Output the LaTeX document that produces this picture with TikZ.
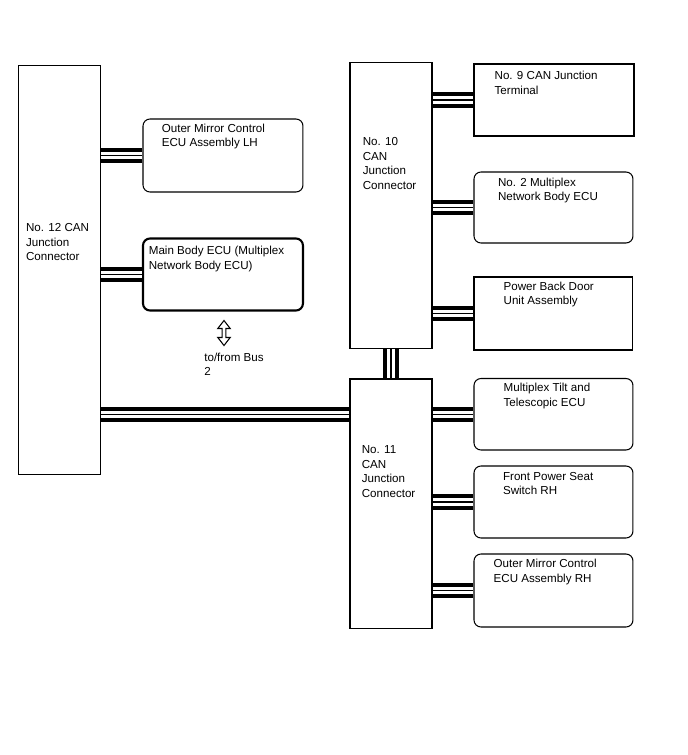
\documentclass[tikz,border=0pt]{standalone}
\usepackage{fontspec}
\setmainfont{Liberation Sans}
\usepackage{tikz}
\usetikzlibrary{positioning,calc}

\begin{document}
\begin{tikzpicture}[x=0.02cm, y=-0.02cm,
    box/.style={rectangle, draw=black, line width=0.6pt, anchor=north west, inner sep=0pt, outer sep=0pt},
    ecu/.style={box, rounded corners=0.14cm},
    heavy/.style={line width=1.2pt},
    txt/.style={anchor=north west, inner sep=0pt, align=left, font=\fontsize{6.6pt}{8.2pt}\selectfont},
    bus/.style={line width=0.31cm, shorten <=0.3pt, shorten >=0.3pt,
        postaction={draw=white, line width=0.15cm},
        postaction={draw=black, line width=0.6pt}}
]
\useasboundingbox (0,0) rectangle (688,755);

% left side
\node[box, minimum width=1.64cm, minimum height=8.18cm] (n12) at (18.5,65.5) {};
\node[txt] (n12txt) at (25.7,223.5) {No. 12 CAN\\Junction\\Connector};

\node[ecu, minimum width=3.2cm, minimum height=1.46cm] (lhmirror) at (143,119) {};
\node[txt] (lhmirrortxt) at (161.5,123.3) {Outer Mirror Control\\ECU Assembly LH};

\node[ecu, heavy, minimum width=3.2cm, minimum height=1.44cm] (mainbody) at (143,238.5) {};
\node[txt] (mainbodytxt) at (148.5,246) {Main Body ECU (Multiplex\\Network Body ECU)};

\coordinate (bus2) at (224,333);
\draw[line width=0.6pt] (bus2) ++(0,-12.5) -- ++(6.2,8) -- ++(-4.3,0) -- ++(0,9) -- ++(4.3,0)
    -- ++(-6.2,8) -- ++(-6.2,-8) -- ++(4.3,0) -- ++(0,-9) -- ++(-4.3,0) -- cycle;
\node[txt] (bus2txt) at (204,352.7) {to/from Bus\\2};

% junction connectors
\node[box, minimum width=1.64cm, minimum height=5.72cm] (n10) at (350,62.5) {};
\node[txt] (n10txt) at (362.5,137.5) {No. 10\\CAN\\Junction\\Connector};

\node[box, minimum width=1.64cm, minimum height=5cm] (n11) at (350,379) {};
\node[txt] (n11txt) at (361.5,445.5) {No. 11\\CAN\\Junction\\Connector};

% right side
\node[box, heavy, minimum width=3.2cm, minimum height=1.44cm] (no9) at (474,64) {};
\node[txt] (no9txt) at (494.3,71) {No. 9 CAN Junction\\Terminal};

\node[ecu, minimum width=3.18cm, minimum height=1.42cm] (no2) at (474,172) {};
\node[txt] (no2txt) at (497.7,177.3) {No. 2 Multiplex\\Network Body ECU};

\node[box, minimum width=3.18cm, minimum height=1.46cm] (backdoor) at (474,277) {};
\node[txt] (backdoortxt) at (503.3,281.5) {Power Back Door\\Unit Assembly};

\node[ecu, minimum width=3.18cm, minimum height=1.43cm] (tilt) at (474,378.5) {};
\node[txt] (tilttxt) at (503.3,383) {Multiplex Tilt and\\Telescopic ECU};

\node[ecu, minimum width=3.18cm, minimum height=1.44cm] (seat) at (474,466) {};
\node[txt] (seattxt) at (502.7,471.7) {Front Power Seat\\Switch RH};

\node[ecu, minimum width=3.18cm, minimum height=1.46cm] (rhmirror) at (474,554) {};
\node[txt] (rhmirrortxt) at (493.3,559) {Outer Mirror Control\\ECU Assembly RH};

% buses
\draw[bus] (lhmirror.west) -- (lhmirror.west -| n12.east);
\draw[bus, shorten <=0.6pt] (mainbody.west) -- (mainbody.west -| n12.east);
\draw[bus] (n12.east |- tilt.west) -- (n11.west |- tilt.west);
\draw[bus] (n10.south) -- (n11.north);
\draw[bus, shorten <=0.6pt] (no9.west) -- (no9.west -| n10.east);
\draw[bus] (no2.west) -- (no2.west -| n10.east);
\draw[bus] (backdoor.west) -- (backdoor.west -| n10.east);
\draw[bus] (tilt.west) -- (tilt.west -| n11.east);
\draw[bus] (seat.west) -- (seat.west -| n11.east);
\draw[bus] (rhmirror.west) -- (rhmirror.west -| n11.east);

\end{tikzpicture}
\end{document}
